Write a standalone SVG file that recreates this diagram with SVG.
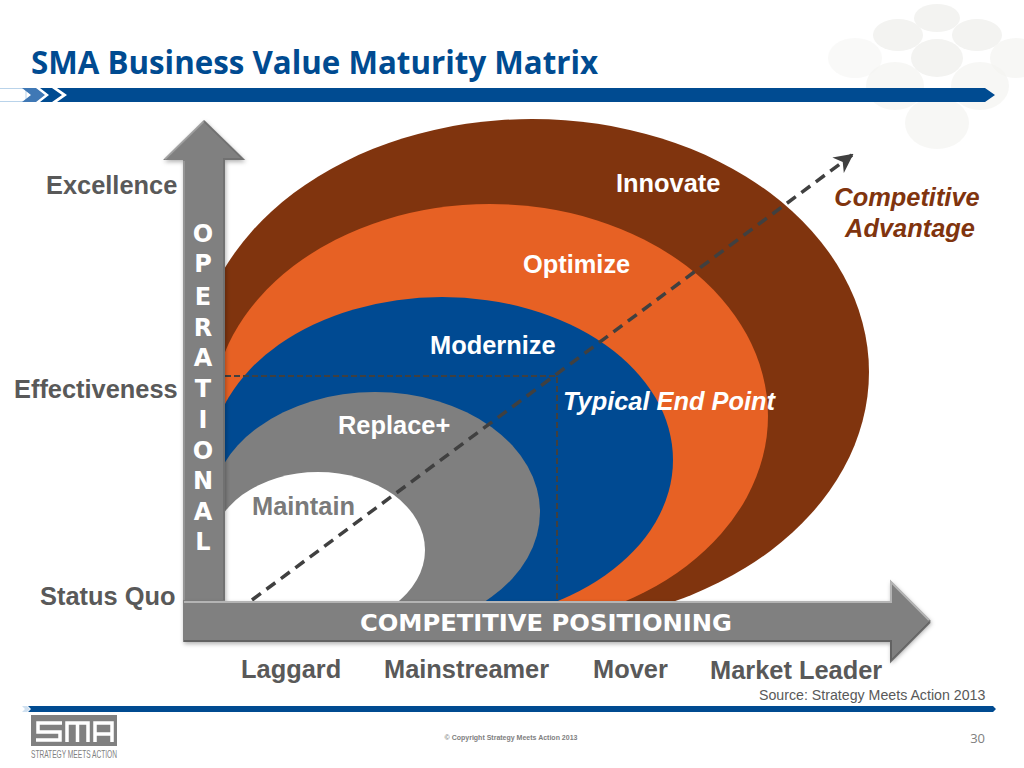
<svg xmlns="http://www.w3.org/2000/svg" width="1024" height="768" viewBox="0 0 1024 768">
<style>
.t{font-family:"Liberation Sans",Arial,sans-serif;font-weight:bold;font-size:25.400px;fill:#595959}
.w{fill:#fff}
.b{fill:#80340e}
.v{font-size:24px;fill:#fff;text-anchor:middle;font-family:"DejaVu Sans","Liberation Sans",sans-serif;font-weight:bold}
.c{fill:#f3f3f1}
.hi{fill:none;stroke:#b4b4b4;stroke-width:2}
.lo{fill:none;stroke:#5a5a5a;stroke-width:2}
</style>
<defs>
<clipPath id="area"><rect x="224" y="100" width="720" height="501"/></clipPath>
<marker id="ah" viewBox="0 0 10 10" refX="9" refY="5" markerWidth="5.500" markerHeight="5.500" markerUnits="strokeWidth" orient="auto"><path d="M0 0 L10 5 L0 10 L3 5Z" fill="#404040"/></marker>
<filter id="sh" x="-10%" y="-10%" width="120%" height="120%"><feDropShadow dx="1" dy="2" stdDeviation="2" flood-color="#000" flood-opacity=".3"/></filter>
</defs>
<rect width="1024" height="768" fill="#fff"/>
<g id="cloud">
<ellipse class="c" cx="937" cy="18" rx="23" ry="14"/>
<ellipse class="c" cx="898" cy="35" rx="25" ry="16"/>
<ellipse class="c" cx="977" cy="35" rx="25" ry="16"/>
<ellipse class="c" cx="937" cy="58" rx="26" ry="19"/>
<ellipse class="c" cx="855" cy="58" rx="27" ry="20" opacity=".5"/>
<ellipse class="c" cx="1016" cy="58" rx="26" ry="20" opacity=".7"/>
<ellipse class="c" cx="895" cy="86" rx="29" ry="24" opacity=".7"/>
<ellipse class="c" cx="980" cy="86" rx="29" ry="24" opacity=".7"/>
<ellipse class="c" cx="937" cy="123" rx="32" ry="26" opacity=".7"/>
</g>
<g id="header">
<text x="31" y="74" font-family="'Open Sans','Noto Sans',sans-serif" font-weight="bold" font-size="31.300" fill="#004b91">SMA Business Value Maturity Matrix</text>
<path d="M0 88.500H26V101.500H0" fill="#fff" stroke="#b9d3ea"/>
<path d="M22 88H36L45 95L36 102H22L31 95Z" fill="#3f78b5"/>
<path d="M40 88H52L62 95L52 102H40L49 95Z" fill="#004b91"/>
<path d="M57 88H985L995 95L985 102H57L67 95Z" fill="#004b91"/>
</g>
<g id="ellipses" clip-path="url(#area)">
<ellipse id="innovate" cx="532" cy="372" rx="337" ry="253" fill="#80340e"/>
<ellipse id="optimize" cx="490" cy="416" rx="278" ry="212" fill="#e76124"/>
<ellipse id="modernize" cx="442" cy="460" rx="231" ry="163" fill="#004a92"/>
<ellipse id="replace" cx="375" cy="512" rx="165" ry="120" fill="#7f7f7f"/>
<ellipse id="maintain" cx="318" cy="550" rx="107" ry="78" fill="#fff"/>
</g>
<g id="connectors" fill="none">
<path d="M225 376H557V600" stroke="#404040" stroke-width="2" stroke-dasharray="6 3"/>
<path d="M252 600L852 155" stroke="#404040" stroke-width="3.500" stroke-dasharray="11 7" marker-end="url(#ah)"/>
</g>
<g id="axis-y">
<path d="M183 160H163L204 120L245 160H225V602H183Z" fill="#808080" filter="url(#sh)"/>
<path class="hi" d="M165 159L204 121" opacity=".6"/>
<path class="lo" d="M204 121L243 159H224V600" opacity=".4"/>
<path class="hi" d="M184 161V600" opacity=".4"/>
<text class="v" x="203" y="242">O</text>
<text class="v" x="203" y="272">P</text>
<text class="v" x="203" y="305">E</text>
<text class="v" x="203" y="336">R</text>
<text class="v" x="203" y="366">A</text>
<text class="v" x="203" y="397">T</text>
<text class="v" x="203" y="428">I</text>
<text class="v" x="203" y="459">O</text>
<text class="v" x="203" y="489">N</text>
<text class="v" x="203" y="520">A</text>
<text class="v" x="203" y="550">L</text>
</g>
<g id="axis-x">
<path d="M183 601H890V580L931 621L890 662V642H183Z" fill="#808080" filter="url(#sh)"/>
<path class="hi" d="M184 602H891V582L929 620" stroke-width="3"/>
<path class="lo" d="M184 641H891V661L930 622" stroke-width="3" opacity=".8"/>
<text x="546" y="631" text-anchor="middle" font-family="'DejaVu Sans','Noto Sans',sans-serif" font-weight="bold" font-size="23.500" textLength="372" lengthAdjust="spacingAndGlyphs" fill="#fff">COMPETITIVE POSITIONING</text>
</g>
<g id="labels">
<text class="t w" x="616" y="192">Innovate</text>
<text class="t w" x="523" y="273">Optimize</text>
<text class="t w" x="430" y="354">Modernize</text>
<text class="t w" x="338" y="434">Replace+</text>
<text class="t" x="252" y="515" style="fill:#7a7a7a">Maintain</text>
<text class="t w" x="563" y="410" font-style="italic">Typical End Point</text>
<text class="t b" x="907" y="206" text-anchor="middle" font-style="italic">Competitive</text>
<text class="t b" x="910" y="237" text-anchor="middle" font-style="italic">Advantage</text>
<text class="t" x="46" y="194">Excellence</text>
<text class="t" x="14" y="398">Effectiveness</text>
<text class="t" x="40" y="605">Status Quo</text>
<text class="t" x="241" y="678">Laggard</text>
<text class="t" x="384" y="678">Mainstreamer</text>
<text class="t" x="593" y="678">Mover</text>
<text class="t" x="710" y="679">Market Leader</text>
</g>
<g id="footer">
<text x="759" y="700" font-family="'Liberation Sans',sans-serif" font-size="14.200" fill="#595959">Source: Strategy Meets Action 2013</text>
<path d="M22 706H27L30 709L27 712H22L25 709Z" fill="#cfe0f0"/>
<path d="M28 706H993L996 709L993 712H28L31 709Z" fill="#004b91"/>
<rect x="31" y="715" width="86" height="31" fill="#808080"/>
<g fill="none" stroke="#fff" stroke-width="3.500">
<path d="M62 723H38V732H60V740H36"/>
<path d="M67 742V723H88V742M77.500 723V742"/>
<path d="M95 742V723H112V742M95 734H112"/>
</g>
<text x="31" y="758" font-family="'Liberation Sans',sans-serif" font-size="11" textLength="86" lengthAdjust="spacingAndGlyphs" fill="#808080">STRATEGY MEETS ACTION</text>
<text x="511" y="740" text-anchor="middle" font-family="'Liberation Sans',sans-serif" font-weight="bold" font-size="7" fill="#808080">© Copyright Strategy Meets Action 2013</text>
<text x="985" y="743" text-anchor="end" font-family="'Open Sans',sans-serif" font-size="13" fill="#808080">30</text>
</g>
</svg>
